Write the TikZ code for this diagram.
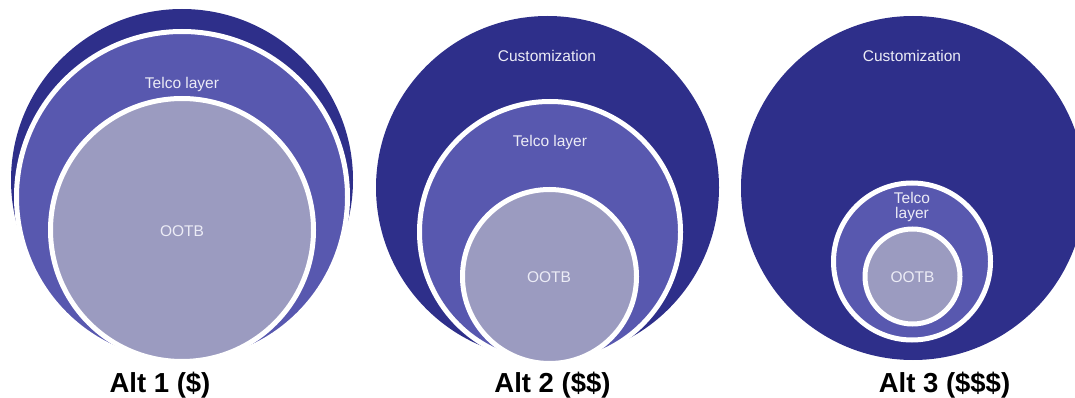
\documentclass[tikz,border=0pt]{standalone}
\usepackage{fontspec}
\setmainfont{Liberation Sans}
\definecolor{custdark}{RGB}{46,47,138}
\definecolor{telcomid}{RGB}{88,88,175}
\definecolor{ootblight}{RGB}{155,155,192}
\definecolor{labeltxt}{RGB}{236,236,246}
\tikzset{
  outerdisc/.style={fill=custdark},
  telcodisc/.style={fill=telcomid, draw=white, line width=5pt},
  ootbdisc/.style={fill=ootblight, draw=white, line width=5pt},
  inlabel/.style={text=labeltxt, font=\fontsize{15.5}{15}\selectfont, inner sep=0pt, anchor=base},
  altlabel/.style={text=black, font=\bfseries\fontsize{27.5}{29}\selectfont, inner sep=0pt, anchor=base}
}
\begin{document}
\begin{tikzpicture}[x=1pt,y=-1pt]
\useasboundingbox (0,0) rectangle (1075,398);
\clip (0,0) rectangle (1075,398);
% ---- Alt 1 ----
\fill[outerdisc] (182,180) circle[radius=171];
\filldraw[telcodisc] (182,197) circle[radius=165.5];
\filldraw[ootbdisc] (182,230) circle[radius=131.5];
\node[inlabel] (t1) at (182,89) {Telco layer};
\node[inlabel] (o1) at (182,236) {OOTB};
\node[altlabel] (a1) at (160,392) {Alt 1 (\$)};
% ---- Alt 2 ----
\fill[outerdisc] (547.5,187.5) circle[radius=171.5];
\filldraw[telcodisc] (550,232) circle[radius=130.5];
\filldraw[ootbdisc] (549.5,276.5) circle[radius=87];
\node[inlabel] (c2) at (547,62) {Customization};
\node[inlabel] (t2) at (550,147) {Telco layer};
\node[inlabel] (o2) at (549,282) {OOTB};
\node[altlabel] (a2) at (552.5,392) {Alt 2 (\$\$)};
% ---- Alt 3 ----
\fill[outerdisc] (913,188) circle[radius=172];
\filldraw[telcodisc] (912,261.5) circle[radius=78.5];
\filldraw[ootbdisc] (912.5,276.5) circle[radius=47.5];
\node[inlabel] (c3) at (912,62) {Customization};
\node[inlabel] (t3a) at (912,203) {Telco};
\node[inlabel] (t3b) at (912,218) {layer};
\node[inlabel] (o3) at (912.5,282) {OOTB};
\node[altlabel] (a3) at (944.5,392) {Alt 3 (\$\$\$)};
\end{tikzpicture}
\end{document}
